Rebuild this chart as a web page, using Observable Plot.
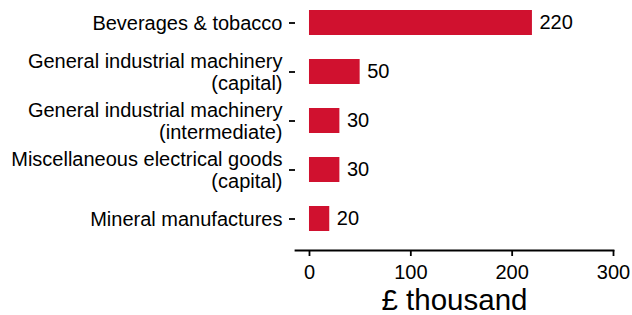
<!DOCTYPE html>
<html>
<head>
<meta charset="utf-8">
<script src="https://cdn.jsdelivr.net/npm/d3@7"></script>
<script src="https://cdn.jsdelivr.net/npm/@observablehq/plot@0.6"></script>
<style>
  html, body { margin: 0; padding: 0; background: #fff; }
  svg { font-family: "Liberation Sans", Arial, sans-serif; }
</style>
</head>
<body>
<div id="chart"></div>
<script>
const categories = [
  "Beverages & tobacco",
  "General industrial machinery\n(capital)",
  "General industrial machinery\n(intermediate)",
  "Miscellaneous electrical goods\n(capital)",
  "Mineral manufactures"
];
const values = [220, 50, 30, 30, 20];
const xTicks = [0, 100, 200, 300];
const xTitle = "£ thousand";

const data = categories.map((c, i) => ({category: c, value: values[i]}));

const chart = Plot.plot({
  width: 632,
  height: 315,
  marginLeft: 295,
  marginRight: 19,
  marginTop: 5,
  marginBottom: 65,
  style: {fontFamily: "Liberation Sans, Arial, sans-serif", background: "#fff", color: "#000"},
  x: {domain: [-13.8, 300], ticks: xTicks},
  y: {domain: categories, range: [4.5, 236.7], paddingInner: 0.49, paddingOuter: 0.1},
  marks: [
    Plot.barX(data, {x: "value", y: "category", fill: "#D0112F"}),
    Plot.text(data, {x: "value", y: "category", text: d => String(d.value), textAnchor: "start", dx: 7, fontSize: 20, fill: "#000"}),
    Plot.frame({anchor: "bottom", stroke: "#000", strokeWidth: 1.8}),
    Plot.axisX({ticks: xTicks, tickSize: 6, tickPadding: 8, fontSize: 20, stroke: "#000", strokeWidth: 1.8, label: null}),
    Plot.axisY({tickSize: 6, tickPadding: 7, fontSize: 20, lineHeight: 1.08, stroke: "#000", strokeWidth: 1.8, label: null}),
    Plot.text([xTitle], {frameAnchor: "bottom", dy: 59, fontSize: 29.5, fill: "#000"})
  ]
});
document.getElementById("chart").appendChild(chart);
</script>
</body>
</html>
